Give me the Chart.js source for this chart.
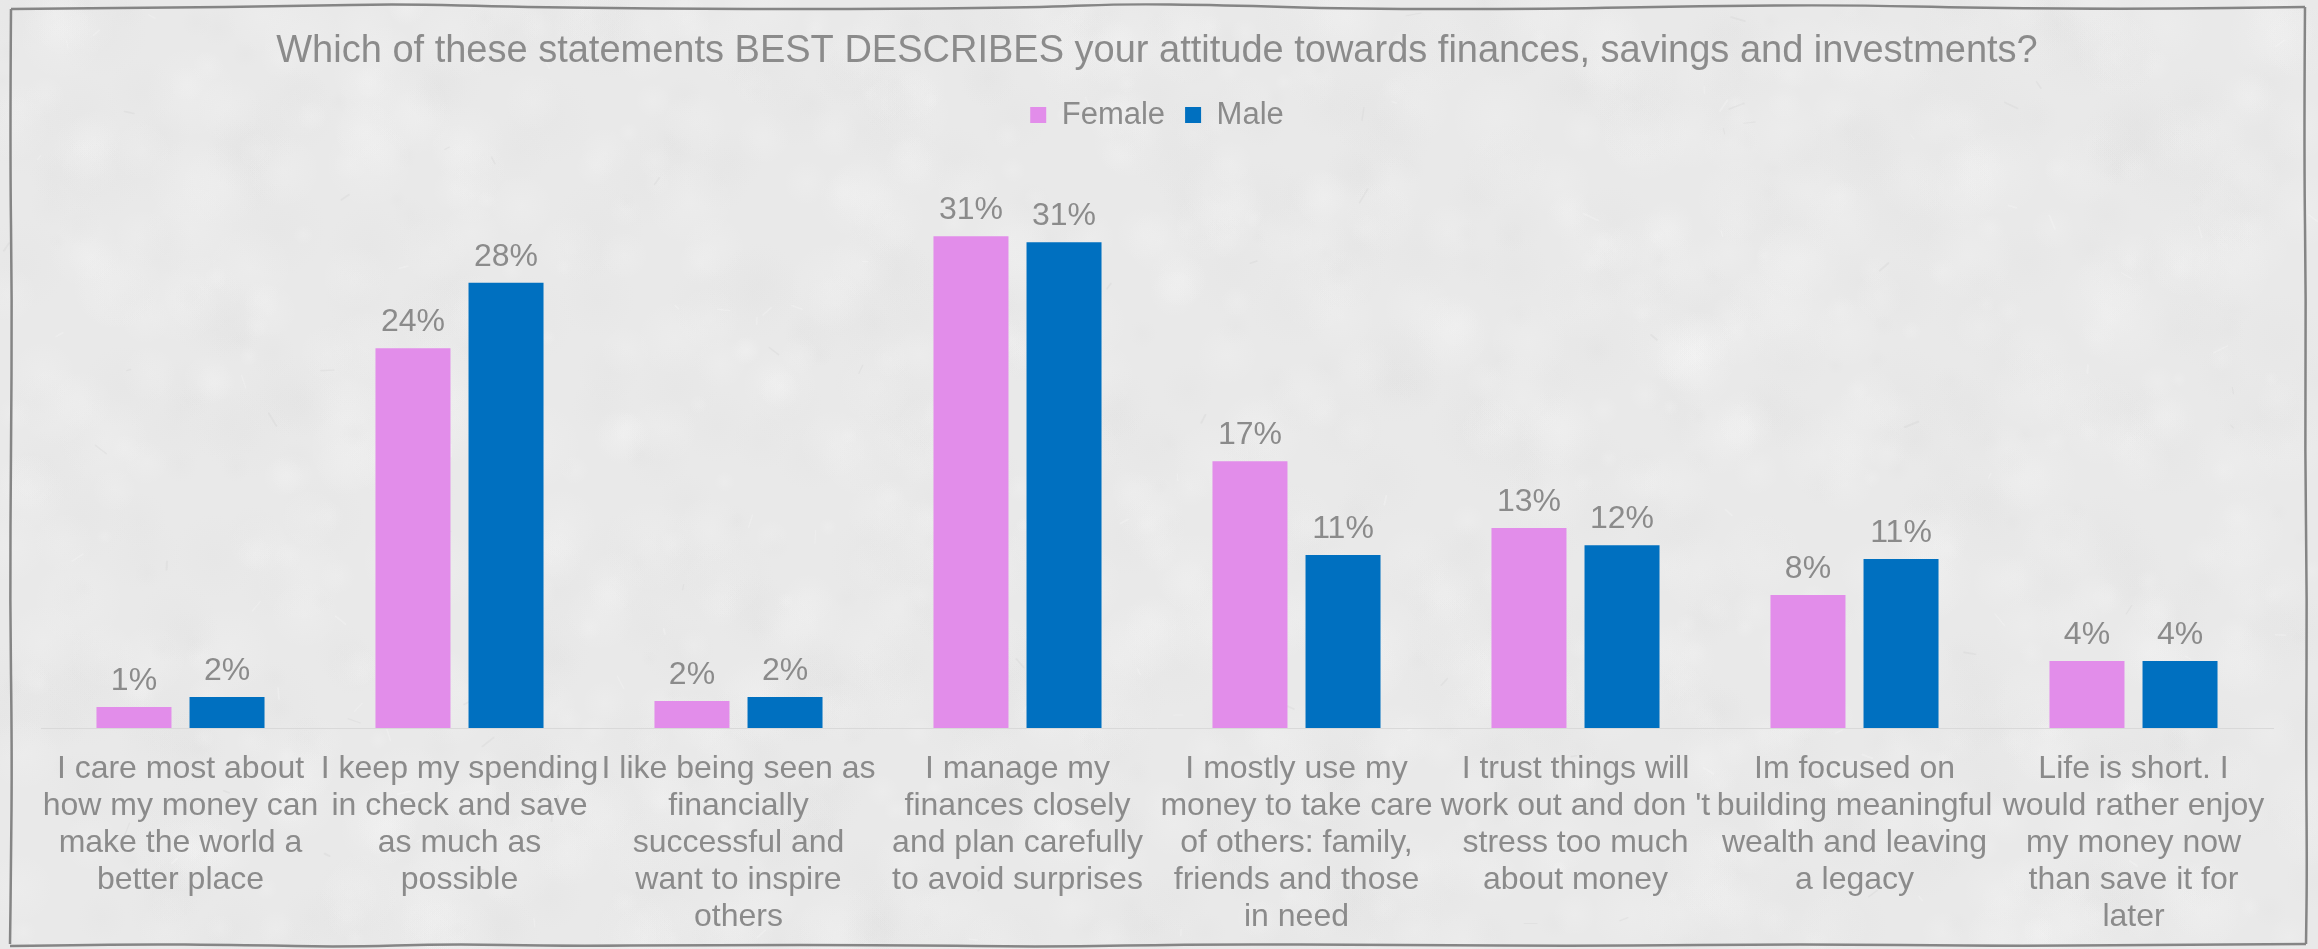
<!DOCTYPE html>
<html>
<head>
<meta charset="utf-8">
<script src="https://cdn.jsdelivr.net/npm/chart.js@4.4.1/dist/chart.umd.min.js"></script>
<style>
  html, body { margin: 0; padding: 0; background: #eaeaea; }
  #wrap { width: 2318px; height: 949px; }
</style>
</head>
<body>
<div id="wrap"><canvas id="attitudeChart" width="2318" height="949"></canvas></div>
<script>
var chartTitle = 'Which of these statements BEST DESCRIBES your attitude towards finances, savings and investments?';

// one entry per statement, already split into the lines shown under the axis
var categories = [
  ['I care most about', 'how my money can', 'make the world a', 'better place'],
  ['I keep my spending', 'in check and save', 'as much as', 'possible'],
  ['I like being seen as', 'financially', 'successful and', 'want to inspire', 'others'],
  ['I manage my', 'finances closely', 'and plan carefully', 'to avoid surprises'],
  ['I mostly use my', 'money to take care', 'of others: family,', 'friends and those', 'in need'],
  ['I trust things will', 'work out and don \'t', 'stress too much', 'about money'],
  ['Im focused on', 'building meaningful', 'wealth and leaving', 'a legacy'],
  ['Life is short. I', 'would rather enjoy', 'my money now', 'than save it for', 'later']
];

// share of respondents, in percent
var female = [1.33, 24.05, 1.71, 31.14, 16.9, 12.66, 8.42, 4.24];
var male   = [1.96, 28.2, 1.96, 30.76, 10.95, 11.58, 10.7, 4.24];

var seriesNames = ['Female', 'Male'];
var seriesColors = ['#E28DEA', '#0070C0'];

var yMax = 37.2;
var textGrey = '#8b8b8b';
var fontFamily = "'Liberation Sans', Arial, sans-serif";

// small seeded generator so the paper grain is the same every time
var seed = 20231;
function grain() {
  seed = (seed * 16807) % 2147483647;
  return seed / 2147483647;
}

// faintly mottled paper background behind everything
var paperPlugin = {
  id: 'paper',
  beforeDraw: function(chart) {
    var ctx = chart.ctx;
    var w = chart.width, h = chart.height;
    seed = 20231;
    ctx.save();
    ctx.fillStyle = '#e9e9e9';
    ctx.fillRect(0, 0, w, h);
    for (var i = 0; i < 1600; i++) {
      var x = grain() * w, y = grain() * h;
      var r = 8 + grain() * 40;
      var light = grain() > 0.45;
      var g = ctx.createRadialGradient(x, y, 0, x, y, r);
      g.addColorStop(0, light ? 'rgba(246,246,246,0.22)' : 'rgba(220,220,220,0.15)');
      g.addColorStop(1, light ? 'rgba(246,246,246,0)' : 'rgba(220,220,220,0)');
      ctx.fillStyle = g;
      ctx.fillRect(x - r, y - r, r * 2, r * 2);
    }
    ctx.lineCap = 'round';
    for (var k = 0; k < 140; k++) {
      var sx = grain() * w, sy = grain() * h;
      var len = 4 + grain() * 12, ang = grain() * Math.PI;
      ctx.strokeStyle = grain() > 0.5 ? 'rgba(205,205,205,0.25)' : 'rgba(250,250,250,0.3)';
      ctx.lineWidth = 1 + grain();
      ctx.beginPath();
      ctx.moveTo(sx, sy);
      ctx.lineTo(sx + Math.cos(ang) * len, sy + Math.sin(ang) * len);
      ctx.stroke();
    }
    ctx.restore();
  }
};

// percentage above every bar
var valueLabels = {
  id: 'valueLabels',
  afterDatasetsDraw: function(chart) {
    var ctx = chart.ctx;
    ctx.save();
    ctx.font = '32px ' + fontFamily;
    ctx.fillStyle = textGrey;
    ctx.textAlign = 'center';
    ctx.textBaseline = 'alphabetic';
    chart.data.datasets.forEach(function(ds, i) {
      chart.getDatasetMeta(i).data.forEach(function(bar, j) {
        ctx.fillText(Math.round(ds.data[j]) + '%', bar.x, bar.y - 17);
      });
    });
    ctx.restore();
  }
};

// hand drawn looking frame round the chart
function wavy(ctx, pts) {
  ctx.moveTo(pts[0][0], pts[0][1]);
  for (var i = 1; i < pts.length - 1; i++) {
    var mx = (pts[i][0] + pts[i + 1][0]) / 2;
    var my = (pts[i][1] + pts[i + 1][1]) / 2;
    ctx.quadraticCurveTo(pts[i][0], pts[i][1], mx, my);
  }
  var last = pts[pts.length - 1];
  ctx.lineTo(last[0], last[1]);
}

var framePlugin = {
  id: 'frame',
  afterDraw: function(chart) {
    var ctx = chart.ctx;
    ctx.save();
    ctx.strokeStyle = '#858585';
    ctx.lineWidth = 2.5;
    ctx.lineJoin = 'round';
    ctx.beginPath();
    wavy(ctx, [[11, 9], [150, 8], [300, 6], [400, 4], [520, 7], [700, 9], [900, 9], [1050, 7],
      [1120, 4], [1220, 5], [1350, 9], [1550, 9], [1700, 6], [1850, 5], [1980, 8], [2150, 9], [2305, 7]]);
    ctx.stroke();
    ctx.beginPath();
    wavy(ctx, [[11, 9], [10, 150], [12, 300], [11, 450], [10, 600], [12, 750], [11, 870], [10, 944]]);
    ctx.stroke();
    ctx.beginPath();
    wavy(ctx, [[2305, 7], [2304, 150], [2306, 300], [2305, 450], [2307, 600], [2306, 750], [2307, 870], [2306, 944]]);
    ctx.stroke();
    ctx.beginPath();
    wavy(ctx, [[10, 946], [120, 944], [250, 945], [340, 947], [450, 944], [560, 946], [700, 945],
      [900, 945], [1050, 947], [1200, 944], [1400, 945], [1600, 946], [1800, 944], [2000, 946], [2150, 945], [2306, 944]]);
    ctx.stroke();
    ctx.restore();
  }
};

var ctx = document.getElementById('attitudeChart').getContext('2d');

var attitudeChart = new Chart(ctx, {
  type: 'bar',
  data: {
    labels: categories,
    datasets: [
      { label: seriesNames[0], data: female, backgroundColor: seriesColors[0], borderWidth: 0 },
      { label: seriesNames[1], data: male, backgroundColor: seriesColors[1], borderWidth: 0 }
    ]
  },
  options: {
    responsive: false,
    animation: false,
    devicePixelRatio: 1,
    categoryPercentage: 0.667,
    barPercentage: 0.806,
    layout: { padding: { left: 41, right: 45, top: 0, bottom: 0 } },
    plugins: {
      title: {
        display: true,
        text: chartTitle,
        color: textGrey,
        font: { family: fontFamily, size: 38, weight: 'normal' },
        padding: { top: 29, bottom: 5 }
      },
      legend: {
        display: true,
        position: 'top',
        labels: {
          color: textGrey,
          font: { family: fontFamily, size: 31 },
          boxWidth: 16,
          boxHeight: 16,
          padding: 20
        }
      },
      tooltip: { enabled: false }
    },
    scales: {
      x: {
        grid: { display: false, drawTicks: false },
        border: { display: true, color: '#d9d9d9', width: 1 },
        ticks: {
          color: textGrey,
          font: { family: fontFamily, size: 32, lineHeight: 1.156 },
          padding: 23,
          autoSkip: false,
          maxRotation: 0,
          minRotation: 0
        },
        afterFit: function(scale) { scale.height = 221; }
      },
      y: {
        display: false,
        min: 0,
        max: yMax
      }
    }
  },
  plugins: [paperPlugin, valueLabels, framePlugin]
});
</script>
</body>
</html>
